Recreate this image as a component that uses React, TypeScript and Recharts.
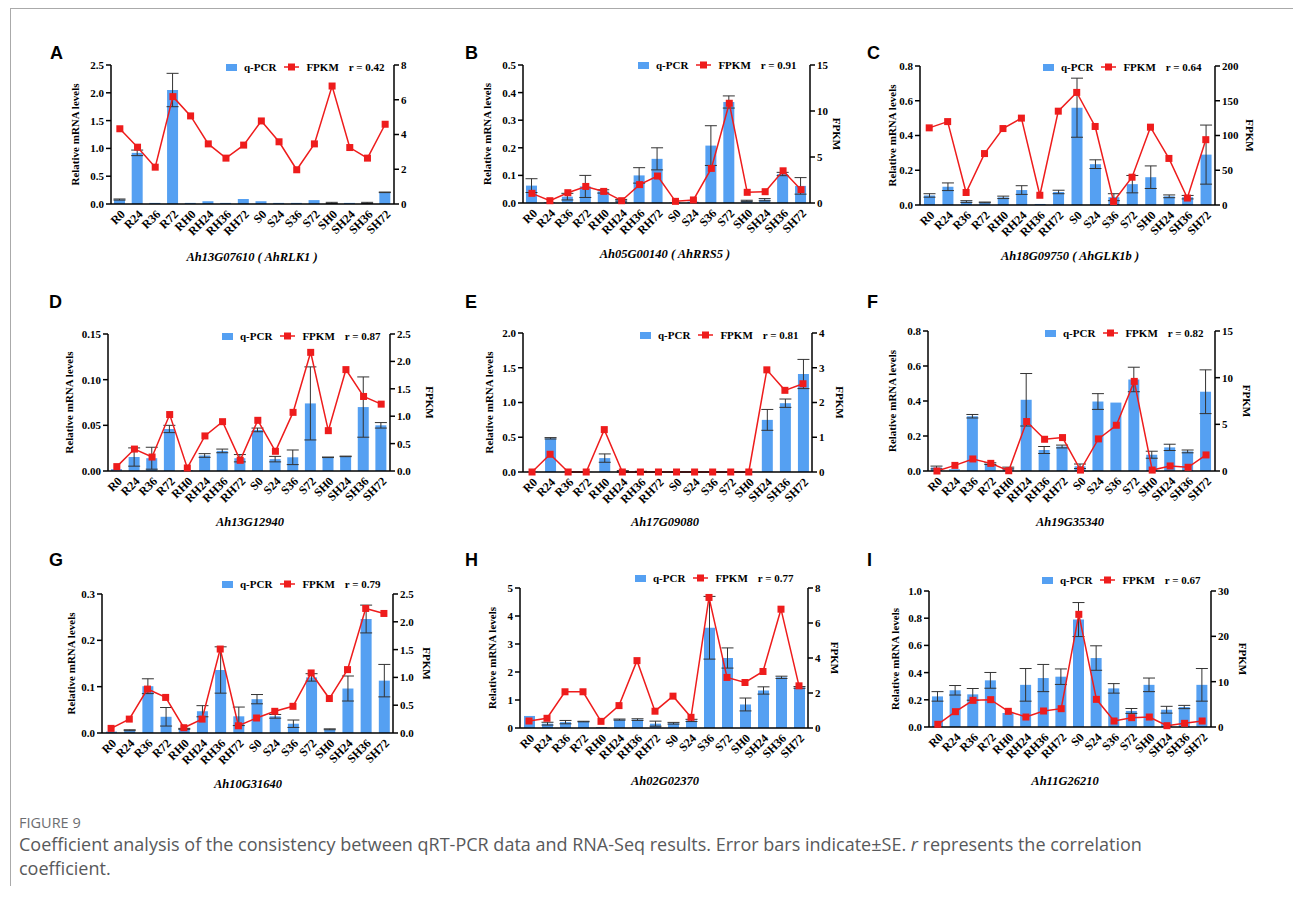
import React from 'react';
import { ComposedChart, Bar, Line, XAxis, YAxis, ErrorBar } from 'recharts';

const categories = ['R0', 'R24', 'R36', 'R72', 'RH0', 'RH24', 'RH36', 'RH72', 'S0', 'S24', 'S36', 'S72', 'SH0', 'SH24', 'SH36', 'SH72'];

// Panel A
const qA = [0.08, 0.92, 0.02, 2.05, 0.02, 0.05, 0.02, 0.09, 0.05, 0.02, 0.02, 0.07, 0.02, 0.02, 0.02, 0.21];
const eA = [0.01, 0.05, 0, 0.3, 0, 0, 0, 0, 0, 0, 0, 0, 0.01, 0, 0.01, 0.005];
const fA = [4.33, 3.27, 2.12, 6.18, 5.07, 3.46, 2.64, 3.39, 4.78, 3.58, 1.97, 3.46, 6.79, 3.25, 2.64, 4.59];
const lTicksA = [0, 0.5, 1, 1.5, 2, 2.5];
const rTicksA = [0, 2, 4, 6, 8];

// Panel B
const qB = [0.063, 0.003, 0.023, 0.06, 0.042, 0.01, 0.1, 0.16, 0.002, 0.005, 0.208, 0.366, 0.008, 0.012, 0.105, 0.062];
const eB = [0.025, 0, 0.012, 0.04, 0.006, 0.003, 0.028, 0.04, 0, 0, 0.072, 0.022, 0.002, 0.004, 0.006, 0.03];
const fB = [1.05, 0.25, 1.12, 1.8, 1.26, 0.25, 2.0, 2.93, 0.18, 0.33, 3.76, 10.84, 1.16, 1.23, 3.5, 1.45];
const lTicksB = [0, 0.1, 0.2, 0.3, 0.4, 0.5];
const rTicksB = [0, 5, 10, 15];

// Panel C
const qC = [0.055, 0.105, 0.02, 0.015, 0.044, 0.086, 0.006, 0.075, 0.56, 0.235, 0.045, 0.12, 0.16, 0.05, 0.045, 0.29];
const eC = [0.01, 0.022, 0.005, 0.002, 0.007, 0.025, 0, 0.01, 0.17, 0.025, 0.02, 0.05, 0.065, 0.008, 0.01, 0.17];
const fC = [111, 120, 18, 74, 110, 125, 14, 135, 162, 113, 5, 40, 112, 67, 10, 94];
const lTicksC = [0, 0.2, 0.4, 0.6, 0.8];
const rTicksC = [0, 50, 100, 150, 200];

// Panel D
const qD = [0.002, 0.0153, 0.014, 0.046, 0.001, 0.017, 0.022, 0.014, 0.045, 0.013, 0.015, 0.074, 0.015, 0.016, 0.07, 0.05];
const eD = [0, 0.01, 0.012, 0.004, 0, 0.002, 0.002, 0.004, 0.002, 0.003, 0.008, 0.04, 0.0003, 0.0003, 0.033, 0.003];
const fD = [0.08, 0.4, 0.255, 1.03, 0.055, 0.64, 0.9, 0.195, 0.925, 0.36, 1.07, 2.165, 0.736, 1.85, 1.36, 1.22];
const lTicksD = [0, 0.05, 0.1, 0.15];
const rTicksD = [0, 0.5, 1, 1.5, 2, 2.5];

// Panel E
const qE = [0.005, 0.485, 0.005, 0.003, 0.2, 0.01, 0.005, 0, 0, 0, 0, 0, 0, 0.75, 0.99, 1.41];
const eE = [0, 0.01, 0, 0, 0.06, 0.01, 0.005, 0, 0, 0, 0, 0, 0, 0.15, 0.06, 0.21];
const fE = [0, 0.51, 0, 0, 1.22, 0, 0, 0, 0, 0, 0, 0, 0, 2.94, 2.35, 2.54];
const lTicksE = [0, 0.5, 1, 1.5, 2];
const rTicksE = [0, 1, 2, 3, 4];

// Panel F
const qF = [0.02, 0.01, 0.313, 0.042, 0.017, 0.407, 0.12, 0.14, 0.027, 0.397, 0.391, 0.523, 0.093, 0.135, 0.112, 0.453];
const eF = [0.008, 0, 0.01, 0.005, 0.005, 0.15, 0.02, 0.008, 0.013, 0.045, 0, 0.07, 0.02, 0.018, 0.008, 0.125];
const fF = [0, 0.6, 1.29, 0.82, 0.03, 5.3, 3.4, 3.58, 0.1, 3.44, 4.9, 9.6, 0.1, 0.54, 0.4, 1.72];
const lTicksF = [0, 0.2, 0.4, 0.6, 0.8];
const rTicksF = [0, 5, 10, 15];

// Panel G
const qG = [0.003, 0.006, 0.101, 0.035, 0.009, 0.047, 0.136, 0.036, 0.073, 0.036, 0.02, 0.12, 0.008, 0.096, 0.246, 0.113];
const eG = [0, 0.001, 0.016, 0.02, 0.001, 0.012, 0.05, 0.02, 0.01, 0.004, 0.008, 0.008, 0.001, 0.027, 0.03, 0.035];
const fG = [0.083, 0.25, 0.79, 0.64, 0.095, 0.25, 1.51, 0.13, 0.27, 0.39, 0.48, 1.08, 0.62, 1.14, 2.24, 2.15];
const lTicksG = [0, 0.1, 0.2, 0.3];
const rTicksG = [0, 0.5, 1, 1.5, 2, 2.5];

// Panel H
const qH = [0.43, 0.155, 0.21, 0.23, 0.03, 0.3, 0.3, 0.155, 0.17, 0.27, 3.58, 2.5, 0.84, 1.34, 1.81, 1.45];
const eH = [0, 0.05, 0.06, 0.01, 0, 0.02, 0.03, 0.09, 0.03, 0.04, 1.12, 0.36, 0.23, 0.13, 0.04, 0.03];
const fH = [0.4, 0.555, 2.07, 2.07, 0.38, 1.28, 3.85, 0.96, 1.82, 0.61, 7.46, 2.89, 2.6, 3.23, 6.79, 2.41];
const lTicksH = [0, 1, 2, 3, 4, 5];
const rTicksH = [0, 2, 4, 6, 8];

// Panel I
const qI = [0.225, 0.27, 0.24, 0.343, 0.103, 0.31, 0.36, 0.37, 0.79, 0.507, 0.284, 0.118, 0.31, 0.127, 0.147, 0.31];
const eI = [0.035, 0.035, 0.043, 0.058, 0, 0.12, 0.1, 0.057, 0.125, 0.09, 0.035, 0.018, 0.05, 0.025, 0.012, 0.12];
const fI = [0.59, 3.38, 5.88, 6.03, 3.46, 2.2, 3.53, 4.04, 24.85, 6.1, 1.32, 2.06, 2.2, 0.29, 0.81, 1.32];
const lTicksI = [0, 0.2, 0.4, 0.6, 0.8, 1.0];
const rTicksI = [0, 10, 20, 30];

const BLUE = '#55a0f2';
const RED = '#ee1c1c';
const SERIF = '"Liberation Serif", "Times New Roman", serif';
const SANS = '"Liberation Sans", Arial, sans-serif';

const panels = [
  { letter: 'A', gene: 'Ah13G07610 ( AhRLK1 )', r: '0.42', q: qA, e: eA, f: fA, lt: lTicksA, rt: rTicksA, ld: 1, rd: 0, box: [111, 65, 394, 204], yl: 75, fl: 0, lg: [226, 67], lp: [50, 53], gn: [252, 257] },
  { letter: 'B', gene: 'Ah05G00140 ( AhRRS5 )', r: '0.91', q: qB, e: eB, f: fB, lt: lTicksB, rt: rTicksB, ld: 1, rd: 0, box: [523, 65, 810, 203], yl: 487, fl: 837, lg: [638, 65], lp: [465, 53], gn: [665, 254] },
  { letter: 'C', gene: 'Ah18G09750 ( AhGLK1b )', r: '0.64', q: qC, e: eC, f: fC, lt: lTicksC, rt: rTicksC, ld: 1, rd: 0, box: [920, 66, 1215, 205], yl: 892, fl: 1250, lg: [1043, 67], lp: [867, 53], gn: [1070, 256] },
  { letter: 'D', gene: 'Ah13G12940', r: '0.87', q: qD, e: eD, f: fD, lt: lTicksD, rt: rTicksD, ld: 2, rd: 1, box: [108, 334, 390, 471], yl: 69, fl: 430, lg: [222, 336], lp: [49, 302], gn: [250, 522] },
  { letter: 'E', gene: 'Ah17G09080', r: '0.81', q: qE, e: eE, f: fE, lt: lTicksE, rt: rTicksE, ld: 1, rd: 0, box: [523, 333, 812, 472], yl: 489, fl: 840, lg: [640, 335], lp: [465, 302], gn: [665, 522] },
  { letter: 'F', gene: 'Ah19G35340', r: '0.82', q: qF, e: eF, f: fF, lt: lTicksF, rt: rTicksF, ld: 1, rd: 0, box: [928, 331, 1215, 471], yl: 892, fl: 1247, lg: [1045, 333], lp: [867, 302], gn: [1070, 522] },
  { letter: 'G', gene: 'Ah10G31640', r: '0.79', q: qG, e: eG, f: fG, lt: lTicksG, rt: rTicksG, ld: 1, rd: 1, box: [102, 594, 393, 733], yl: 71, fl: 427, lg: [222, 584], lp: [49, 560], gn: [248, 784] },
  { letter: 'H', gene: 'Ah02G02370', r: '0.77', q: qH, e: eH, f: fH, lt: lTicksH, rt: rTicksH, ld: 0, rd: 0, box: [520, 588, 808, 728], yl: 492, fl: 835, lg: [635, 578], lp: [465, 560], gn: [665, 781] },
  { letter: 'I', gene: 'Ah11G26210', r: '0.67', q: qI, e: eI, f: fI, lt: lTicksI, rt: rTicksI, ld: 1, rd: 0, box: [929, 591, 1211, 727], yl: 895, fl: 1243, lg: [1042, 580], lp: [867, 560], gn: [1065, 781] },
];

const LW = 60;
const RW = 50;
const TM = 20;
const XH = 55;

const XTick = (props: any) => {
  const { x, y, payload } = props;
  return (
    <g transform={`translate(${x + 6},${y + 9})`}>
      <text x={0} y={0} textAnchor="end" transform="rotate(-45)" fill="#000" fontSize={12} fontWeight={700} fontFamily={SERIF}>
        {payload.value}
      </text>
    </g>
  );
};

const SquareDot = (props: any) => {
  const { cx, cy, index } = props;
  if (cx == null || cy == null) return <g key={index} />;
  return <rect key={index} x={cx - 3.5} y={cy - 3.5} width={7} height={7} fill={RED} />;
};

const tickStyle = { fill: '#000', fontSize: 11, fontWeight: 700, fontFamily: SERIF };
const labelStyle = { textAnchor: 'middle' as const, fontSize: 11, fontWeight: 700, fontFamily: SERIF, fill: '#000' };

function Panel({ p }: { p: any }) {
  const [x1, y1, x2, y2] = p.box;
  const w = LW + (x2 - x1) + RW;
  const h = TM + (y2 - y1) + XH;
  const data = categories.map((c, i) => ({ cat: c, q: p.q[i], e: p.e[i], f: p.f[i] }));
  const lMax = p.lt[p.lt.length - 1];
  const rMax = p.rt[p.rt.length - 1];
  return (
    <>
      <div style={{ position: 'absolute', left: x1 - LW, top: y1 - TM }}>
        <ComposedChart width={w} height={h} data={data} margin={{ top: TM, right: 0, bottom: 0, left: 0 }}>
          <XAxis
            dataKey="cat"
            height={XH}
            interval={0}
            tickLine={false}
            tickSize={0}
            axisLine={{ stroke: '#000', strokeWidth: 1.5 }}
            tick={<XTick />}
          />
          <YAxis
            yAxisId="l"
            orientation="left"
            width={LW}
            domain={[0, lMax]}
            ticks={p.lt}
            tickFormatter={(v: number) => v.toFixed(p.ld)}
            tick={tickStyle}
            tickSize={5}
            tickLine={{ stroke: '#000', strokeWidth: 1.5 }}
            axisLine={{ stroke: '#000', strokeWidth: 1.5 }}
            label={{ value: 'Relative mRNA levels', angle: -90, position: 'insideLeft', offset: p.yl - (x1 - LW), style: labelStyle }}
          />
          <YAxis
            yAxisId="r"
            orientation="right"
            width={RW}
            domain={[0, rMax]}
            ticks={p.rt}
            tickFormatter={(v: number) => v.toFixed(p.rd)}
            tick={tickStyle}
            tickSize={5}
            tickLine={{ stroke: '#000', strokeWidth: 1.5 }}
            axisLine={{ stroke: '#000', strokeWidth: 1.5 }}
            label={p.fl ? { value: 'FPKM', angle: 90, position: 'insideRight', offset: x2 + RW - p.fl, style: labelStyle } : undefined}
          />
          <Bar yAxisId="l" dataKey="q" fill={BLUE} barSize={11} isAnimationActive={false}>
            <ErrorBar dataKey="e" width={6} stroke="#333" strokeWidth={1} direction="y" />
          </Bar>
          <Line yAxisId="r" type="linear" dataKey="f" stroke={RED} strokeWidth={1.5} dot={SquareDot} activeDot={false} isAnimationActive={false} />
        </ComposedChart>
      </div>
      <div style={{ position: 'absolute', left: p.lp[0], top: p.lp[1] - 9, fontFamily: SANS, fontWeight: 700, fontSize: 18, lineHeight: '18px' }}>
        {p.letter}
      </div>
      <div
        style={{
          position: 'absolute',
          left: p.lg[0],
          top: p.lg[1] - 8,
          height: 16,
          display: 'flex',
          alignItems: 'center',
          fontFamily: SERIF,
          fontWeight: 700,
          fontSize: 11,
          whiteSpace: 'nowrap',
        }}
      >
        <span style={{ display: 'inline-block', width: 11, height: 7, background: BLUE, marginRight: 7 }} />
        <span>q-PCR</span>
        <svg width={15} height={8} style={{ marginLeft: 8, marginRight: 7 }}>
          <line x1={0} y1={4} x2={15} y2={4} stroke={RED} strokeWidth={1.5} />
          <rect x={4} y={0.5} width={7} height={7} fill={RED} />
        </svg>
        <span>FPKM</span>
        <span style={{ marginLeft: 10 }}>r = {p.r}</span>
      </div>
      <div
        style={{
          position: 'absolute',
          left: p.gn[0] - 150,
          width: 300,
          top: p.gn[1] - 7,
          textAlign: 'center',
          fontFamily: SERIF,
          fontWeight: 700,
          fontStyle: 'italic',
          fontSize: 12.5,
          lineHeight: '14px',
          whiteSpace: 'nowrap',
        }}
      >
        {p.gene}
      </div>
    </>
  );
}

export default function App() {
  return (
    <div style={{ position: 'absolute', left: 0, top: 0, width: 1293, height: 902, background: '#fff', overflow: 'hidden' }}>
      <div style={{ position: 'absolute', left: 10, top: 8, width: 1283, height: 877, borderLeft: '1px solid #aaa', borderTop: '1px solid #aaa' }} />
      {panels.map((p) => (
        <Panel key={p.letter} p={p} />
      ))}
      <div style={{ position: 'absolute', left: 19, top: 814, fontFamily: '"Open Sans", sans-serif', fontSize: 14.5, lineHeight: '18px', color: '#6d6e71' }}>
        FIGURE 9
      </div>
      <div style={{ position: 'absolute', left: 19, top: 832, width: 1265, fontFamily: '"Open Sans", sans-serif', fontSize: 18, lineHeight: '24px', color: '#58595b', whiteSpace: 'nowrap' }}>
        Coefficient analysis of the consistency between qRT-PCR data and RNA-Seq results. Error bars indicate±SE. <i>r</i> represents the correlation
        <br />
        coefficient.
      </div>
    </div>
  );
}
